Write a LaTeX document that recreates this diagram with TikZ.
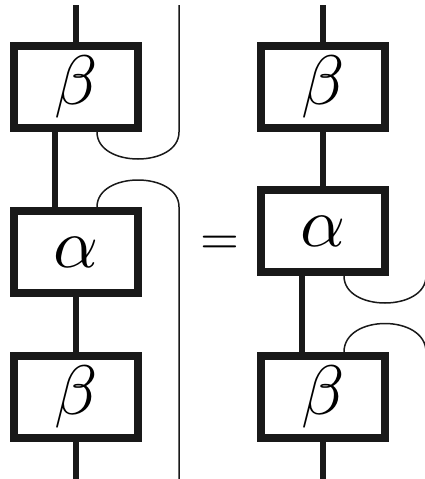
\documentclass[tikz,border=0pt]{standalone}
\usepackage{graphicx}
\begin{document}
\begin{tikzpicture}[x=1pt,y=-1pt,
  box/.style={draw=black!90, line width=8pt, minimum width=124pt, minimum height=82pt, inner sep=0pt, fill=white},
  wire/.style={draw=black!90, line width=6.5pt},
  strand/.style={draw=black!90, line width=1.5pt}]
\clip (0,0) rectangle (425,479);
% free ends
\coordinate (lt) at (76,5);
\coordinate (lb) at (76,479);
\coordinate (rt) at (323,5);
\coordinate (rb) at (323,479);
\coordinate (st) at (179,5);
\coordinate (sb) at (179,479);
\coordinate (cr) at (426,276);
\coordinate (kr) at (426,352);
% left column
\node[box] (b1) at (76,87) {\scalebox{7}{$\beta$}};
\node[box] (a1) at (76,252) {\scalebox{7}{$\alpha$}};
\node[box] (b3) at (76,397) {\scalebox{7}{$\beta$}};
% right column
\node[box] (b2) at (323,87) {\scalebox{7}{$\beta$}};
\node[box] (a2) at (323,231) {\scalebox{7}{$\alpha$}};
\node[box] (b4) at (323,397) {\scalebox{7}{$\beta$}};
% equals
\node[anchor=base, inner sep=0pt] (eq) at (220,254.5) {\scalebox{5}{$=$}};
% wires left
\draw[wire] (lt) -- (b1.north);
\draw[wire] ([xshift=-21pt]b1.south) -- ([xshift=-21pt]a1.north);
\draw[wire] (a1.south) -- (b3.north);
\draw[wire] (b3.south) -- (lb);
% wires right
\draw[wire] (rt) -- (b2.north);
\draw[wire] (b2.south) -- (a2.north);
\draw[wire] ([xshift=-21pt]a2.south) -- ([xshift=-21pt]b4.north);
\draw[wire] (b4.south) -- (rb);
% strands left
\draw[strand] ([xshift=21pt]b1.south) .. controls +(0,36) and +(0,36) .. (179,132) -- (st);
\draw[strand] ([xshift=21pt]a1.north) .. controls +(0,-36) and +(0,-36) .. (179,207) -- (sb);
% strands right
\draw[strand] ([xshift=21pt]a2.south) .. controls +(0,36) and +(0,36) .. (cr);
\draw[strand] ([xshift=21pt]b4.north) .. controls +(0,-38) and +(0,-38) .. (kr);
\end{tikzpicture}
\end{document}
